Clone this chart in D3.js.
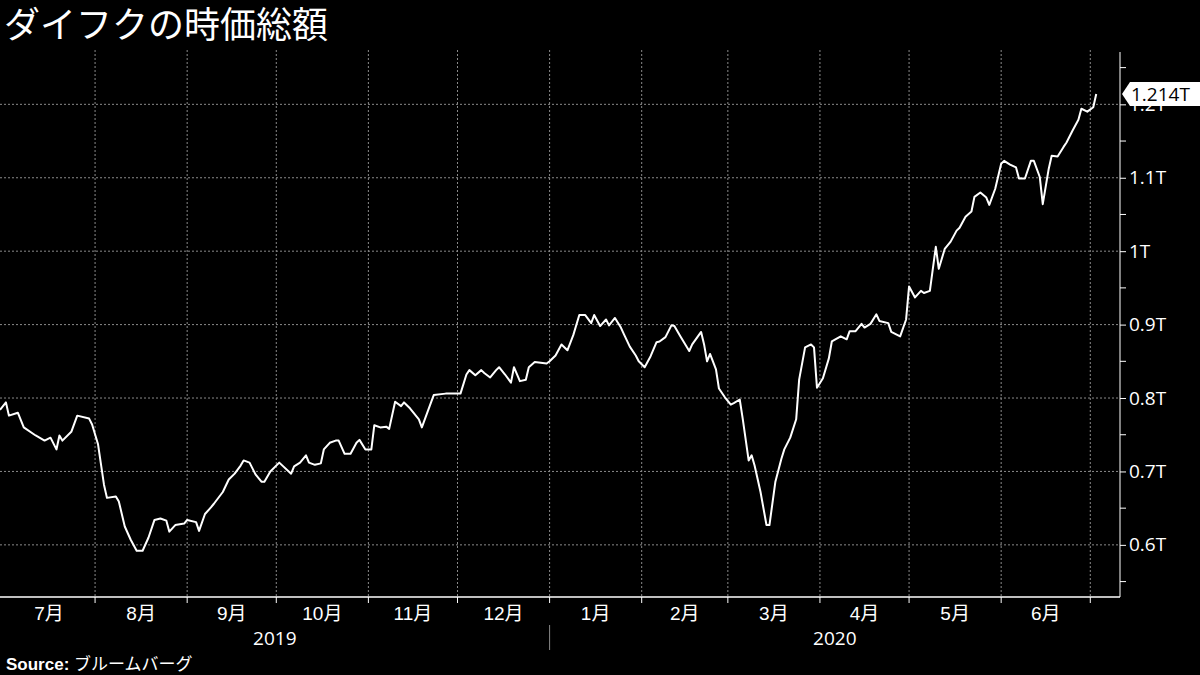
<!DOCTYPE html>
<html>
<head>
<meta charset="utf-8">
<script src="https://cdn.jsdelivr.net/npm/d3@7"></script>
<style>
  body { margin: 0; background: #000; }
  svg { display: block; font-family: "Liberation Sans", "Noto Sans CJK JP", sans-serif; }
</style>
</head>
<body>
<svg id="chart" width="1200" height="675"></svg>
<script>
// market cap, trillion yen
var dates = ["2019-06-30","2019-07-02","2019-07-03","2019-07-06","2019-07-08","2019-07-12","2019-07-15","2019-07-17","2019-07-19","2019-07-20","2019-07-21","2019-07-24","2019-07-26","2019-07-30","2019-07-31",
"2019-08-02","2019-08-04","2019-08-05","2019-08-08","2019-08-09","2019-08-11","2019-08-13","2019-08-15","2019-08-17","2019-08-19","2019-08-21","2019-08-23","2019-08-25","2019-08-26","2019-08-28","2019-08-31",
"2019-09-01","2019-09-04","2019-09-05","2019-09-07","2019-09-09","2019-09-10","2019-09-13","2019-09-15","2019-09-17","2019-09-19","2019-09-20","2019-09-22","2019-09-24","2019-09-26","2019-09-27","2019-09-29",
"2019-10-02","2019-10-06","2019-10-07","2019-10-09","2019-10-11","2019-10-12","2019-10-14","2019-10-16","2019-10-17","2019-10-19","2019-10-21","2019-10-22","2019-10-24","2019-10-26","2019-10-28","2019-10-29","2019-10-31",
"2019-11-02","2019-11-03","2019-11-05","2019-11-07","2019-11-08","2019-11-10","2019-11-12","2019-11-13","2019-11-15","2019-11-18","2019-11-19","2019-11-22","2019-11-23","2019-11-27",
"2019-12-02","2019-12-04","2019-12-05","2019-12-07","2019-12-09","2019-12-10","2019-12-12","2019-12-14","2019-12-15","2019-12-17","2019-12-19","2019-12-20","2019-12-22","2019-12-24","2019-12-25","2019-12-27","2019-12-31",
"2020-01-01","2020-01-03","2020-01-05","2020-01-07","2020-01-09","2020-01-11","2020-01-13","2020-01-15","2020-01-16","2020-01-18","2020-01-20","2020-01-21","2020-01-23","2020-01-25","2020-01-26","2020-01-28","2020-01-30","2020-01-31",
"2020-02-02","2020-02-04","2020-02-06","2020-02-07","2020-02-09","2020-02-11","2020-02-12","2020-02-14","2020-02-17","2020-02-18","2020-02-21","2020-02-22","2020-02-23","2020-02-24","2020-02-26","2020-02-27","2020-02-29",
"2020-03-02","2020-03-03","2020-03-05","2020-03-06","2020-03-08","2020-03-09","2020-03-10","2020-03-12","2020-03-14","2020-03-15","2020-03-17","2020-03-19","2020-03-20","2020-03-22","2020-03-24","2020-03-25","2020-03-27","2020-03-29","2020-03-30","2020-03-31",
"2020-04-02","2020-04-04","2020-04-05","2020-04-08","2020-04-10","2020-04-11","2020-04-13","2020-04-15","2020-04-16","2020-04-18","2020-04-20","2020-04-21","2020-04-24","2020-04-25","2020-04-28","2020-04-30",
"2020-05-01","2020-05-03","2020-05-05","2020-05-06","2020-05-08","2020-05-10","2020-05-11","2020-05-13","2020-05-15","2020-05-17","2020-05-18","2020-05-20","2020-05-22","2020-05-23","2020-05-25","2020-05-27","2020-05-28","2020-05-30",
"2020-06-01","2020-06-02","2020-06-04","2020-06-06","2020-06-07","2020-06-09","2020-06-11","2020-06-12","2020-06-14","2020-06-15","2020-06-17","2020-06-18","2020-06-20","2020-06-22","2020-06-23","2020-06-25","2020-06-27","2020-06-28","2020-06-30","2020-07-02","2020-07-03"];
var values = [0.784,0.794,0.776,0.780,0.760,0.749,0.742,0.746,0.730,0.749,0.742,0.754,0.776,0.772,0.764,
0.737,0.682,0.664,0.666,0.659,0.625,0.607,0.592,0.592,0.610,0.634,0.636,0.633,0.618,0.627,0.629,
0.634,0.631,0.619,0.642,0.651,0.656,0.672,0.689,0.697,0.708,0.715,0.712,0.696,0.686,0.686,0.700,
0.712,0.697,0.707,0.712,0.722,0.712,0.709,0.711,0.730,0.739,0.742,0.742,0.724,0.724,0.739,0.743,0.730,
0.730,0.763,0.760,0.761,0.758,0.795,0.789,0.794,0.786,0.771,0.760,0.793,0.804,0.806,
0.806,0.832,0.838,0.831,0.838,0.834,0.828,0.838,0.842,0.832,0.821,0.842,0.823,0.825,0.842,0.849,0.847,
0.850,0.858,0.873,0.865,0.886,0.913,0.913,0.902,0.913,0.898,0.907,0.899,0.909,0.896,0.887,0.870,0.858,0.850,
0.842,0.857,0.876,0.877,0.883,0.899,0.898,0.884,0.864,0.873,0.890,0.873,0.850,0.860,0.839,0.813,0.801,
0.791,0.793,0.798,0.772,0.715,0.722,0.708,0.672,0.627,0.627,0.686,0.717,0.730,0.746,0.771,0.825,0.869,0.873,0.869,0.814,
0.827,0.854,0.877,0.884,0.880,0.891,0.891,0.901,0.896,0.901,0.914,0.905,0.902,0.890,0.884,0.907,
0.952,0.937,0.946,0.943,0.946,1.006,0.976,1.003,1.013,1.028,1.032,1.047,1.054,1.074,1.080,1.073,1.063,1.085,
1.119,1.123,1.118,1.114,1.099,1.099,1.123,1.123,1.101,1.064,1.112,1.130,1.129,1.142,1.148,1.164,1.179,1.194,1.190,1.196,1.214];
var yTicks = [0.6, 0.7, 0.8, 0.9, 1.0, 1.1, 1.2];
var yTickLabels = ["0.6T", "0.7T", "0.8T", "0.9T", "1T", "1.1T", "1.2T"];
var monthStarts = ["2019-07-01","2019-08-01","2019-09-01","2019-10-01","2019-11-01","2019-12-01","2020-01-01","2020-02-01","2020-03-01","2020-04-01","2020-05-01","2020-06-01","2020-07-01"];
var monthLabels = ["7月","8月","9月","10月","11月","12月","1月","2月","3月","4月","5月","6月"];
var years = ["2019", "2020"];
var lastLabel = "1.214T";

var parse = d3.timeParse("%Y-%m-%d");
var data = dates.map(function(d, i) { return {date: parse(d), value: values[i]}; });
var months = monthStarts.map(parse);

var svg = d3.select("#chart");
var plotLeft = 0, plotRight = 1120, plotTop = 50, plotBottom = 597;

var x = d3.scaleTime()
  .domain([parse("2019-06-30"), parse("2020-07-11")])
  .range([plotLeft, plotRight]);
var y = d3.scaleLinear()
  .domain([0.529, 1.274])
  .range([plotBottom, plotTop]);

// grid
svg.append("g").selectAll("line").data(months.slice(1)).enter().append("line")
  .attr("x1", function(d) { return x(d); }).attr("x2", function(d) { return x(d); })
  .attr("y1", plotTop).attr("y2", plotBottom)
  .attr("stroke", "#8a8a8a").attr("stroke-width", 1).attr("stroke-dasharray", "2,2");
svg.append("g").selectAll("line").data(yTicks).enter().append("line")
  .attr("x1", plotLeft).attr("x2", plotRight)
  .attr("y1", function(d) { return y(d); }).attr("y2", function(d) { return y(d); })
  .attr("stroke", "#8a8a8a").attr("stroke-width", 1).attr("stroke-dasharray", "2,2");

// y axis on the right
var yAxis = d3.axisRight(y).tickValues(yTicks).tickSize(6)
  .tickFormat(function(d, i) { return yTickLabels[i]; });
var ya = svg.append("g").attr("transform", "translate(" + plotRight + ",0)").call(yAxis);
ya.select(".domain").attr("stroke", "#fff").attr("d", "M0," + (plotTop + 2) + "V" + plotBottom);
ya.selectAll(".tick line").attr("stroke", "#fff");
ya.selectAll(".tick text").attr("fill", "#fff").attr("font-size", 19).attr("x", 9)
  .attr("font-family", "'Open Sans', sans-serif");
var minor = d3.range(0.55, 1.26, 0.1);
ya.selectAll(".minor").data(minor).enter().append("line")
  .attr("x1", 0).attr("x2", 6)
  .attr("y1", function(d) { return y(d); }).attr("y2", function(d) { return y(d); })
  .attr("stroke", "#fff");

// x axis
svg.append("line").attr("x1", plotLeft).attr("x2", plotRight).attr("y1", plotBottom).attr("y2", plotBottom)
  .attr("stroke", "#fff").attr("stroke-width", 1.5);
svg.append("g").selectAll("line").data(months.slice(1)).enter().append("line")
  .attr("x1", function(d) { return x(d); }).attr("x2", function(d) { return x(d); })
  .attr("y1", plotBottom).attr("y2", plotBottom + 6).attr("stroke", "#fff");
svg.append("g").selectAll("text").data(monthLabels).enter().append("text")
  .attr("x", function(d, i) { return (Math.max(plotLeft, x(months[i])) + x(months[i + 1])) / 2; })
  .attr("y", 620).attr("text-anchor", "middle").attr("fill", "#fff").attr("font-size", 19)
  .text(function(d) { return d; });
var yearStart = x(parse("2020-01-01"));
svg.append("g").selectAll("text").data(years).enter().append("text")
  .attr("x", function(d, i) { return i === 0 ? (plotLeft + yearStart) / 2 : (yearStart + plotRight) / 2; })
  .attr("y", 645).attr("text-anchor", "middle").attr("fill", "#fff").attr("font-size", 19)
  .attr("font-family", "'Open Sans', sans-serif")
  .text(function(d) { return d; });
svg.append("line").attr("x1", yearStart).attr("x2", yearStart).attr("y1", 625).attr("y2", 650)
  .attr("stroke", "#888");

// line
var line = d3.line().x(function(d) { return x(d.date); }).y(function(d) { return y(d.value); });
svg.append("path").datum(data).attr("d", line)
  .attr("fill", "none").attr("stroke", "#fff").attr("stroke-width", 2).attr("stroke-linejoin", "round");

// last value tag
var ly = y(values[values.length - 1]);
svg.append("path")
  .attr("d", "M" + (plotRight + 2) + "," + ly + "L" + (plotRight + 10) + "," + (ly - 12) + "H1200V" + (ly + 12) + "H" + (plotRight + 10) + "Z")
  .attr("fill", "#fff");
svg.append("text").attr("x", plotRight + 11).attr("y", ly + 7).attr("fill", "#000").attr("font-size", 19)
  .attr("font-family", "'Open Sans', sans-serif").text(lastLabel);

// title & source
svg.append("text").attr("x", 4).attr("y", 38).attr("fill", "#fff").attr("font-size", 36)
  .attr("font-family", "'Noto Sans CJK JP', sans-serif").text("ダイフクの時価総額");
var src = svg.append("text").attr("x", 6).attr("y", 670).attr("fill", "#fff").attr("font-size", 17);
src.append("tspan").attr("font-weight", "bold").text("Source: ");
src.append("tspan").attr("font-family", "'Noto Sans CJK JP', sans-serif").text("ブルームバーグ");
</script>
</body>
</html>
